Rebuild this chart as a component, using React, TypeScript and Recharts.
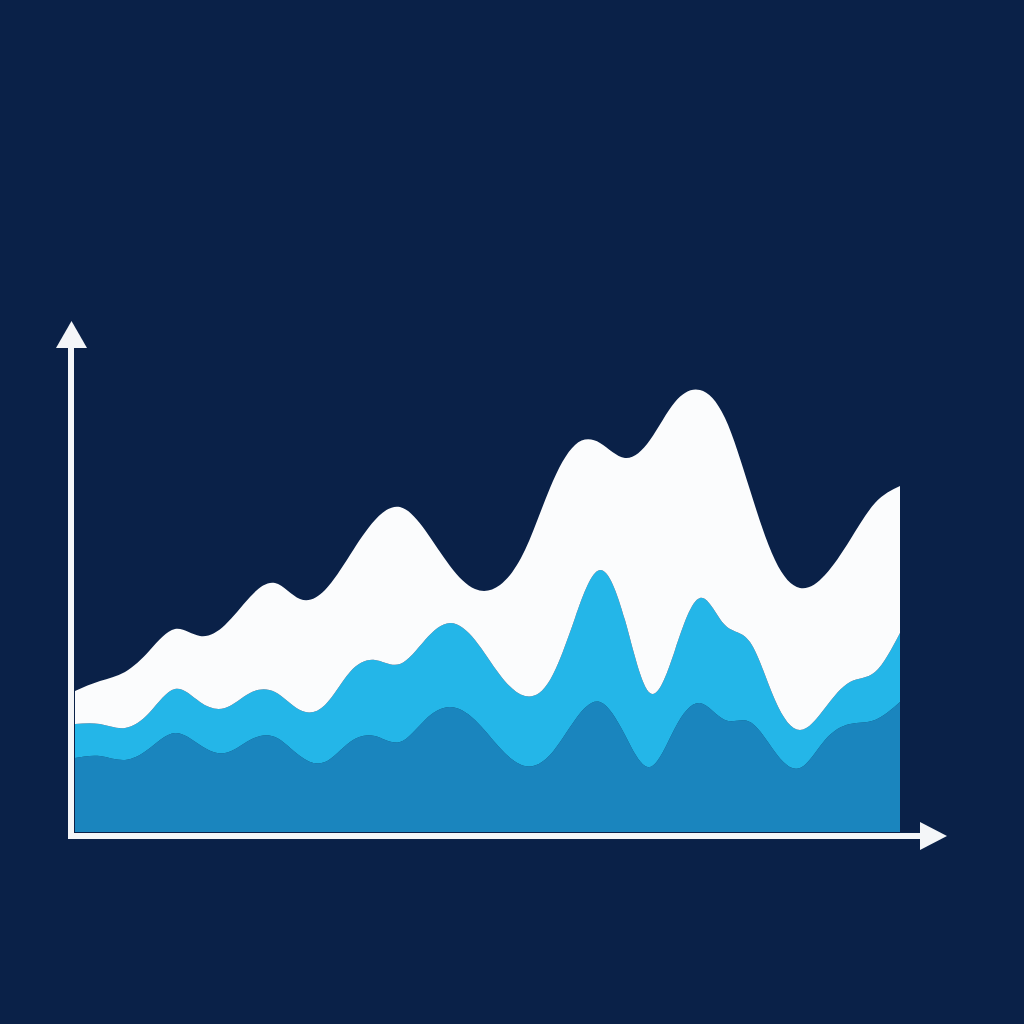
import { AreaChart, Area, XAxis, YAxis } from "recharts";

// 34 evenly spaced periods
const periods = [
  "P1", "P2", "P3", "P4", "P5", "P6", "P7", "P8", "P9", "P10",
  "P11", "P12", "P13", "P14", "P15", "P16", "P17", "P18", "P19", "P20",
  "P21", "P22", "P23", "P24", "P25", "P26", "P27", "P28", "P29", "P30",
  "P31", "P32", "P33", "P34",
];

// stacked layers, bottom → top
const baseLayer = [
  74, 76, 72, 84, 99, 87, 79, 92, 95, 76,
  70, 90, 96, 90, 112, 125, 112, 84, 66, 77,
  112, 130, 97, 65, 104, 129, 112, 110, 80, 64,
  92, 108, 112, 130,
];
const midLayer = [
  34, 32, 32, 36, 44, 43, 45, 47, 45, 46,
  57, 70, 76, 78, 80, 84, 80, 73, 70, 75,
  102, 132, 115, 74, 78, 105, 95, 80, 52, 38,
  32, 42, 48, 69,
];
const topLayer = [
  33, 43, 56, 62, 60, 66, 83, 96, 109, 111,
  115, 117, 140, 157, 110, 57, 51, 90, 146, 192,
  173, 127, 162, 253, 248, 208, 207, 152, 140, 142,
  133, 142, 169, 147,
];

const data = periods.map((p, i) => ({
  period: p,
  base: baseLayer[i],
  mid: midLayer[i],
  top: topLayer[i],
}));

const BG = "#0a2148";

export default function App() {
  return (
    <div
      style={{
        position: "fixed",
        top: 0,
        left: 0,
        width: 1024,
        height: 1024,
        background: BG,
        overflow: "hidden",
      }}
    >
      <AreaChart
        width={1024}
        height={1024}
        data={data}
        margin={{ top: 382, right: 124, left: 75, bottom: 192 }}
      >
        <XAxis dataKey="period" hide />
        <YAxis domain={[0, 450]} hide />
        <Area
          type="natural"
          dataKey="base"
          stackId="s"
          stroke="none"
          fill="#1a85be"
          fillOpacity={1}
          isAnimationActive={false}
        />
        <Area
          type="natural"
          dataKey="mid"
          stackId="s"
          stroke="none"
          fill="#24b6e8"
          fillOpacity={1}
          isAnimationActive={false}
        />
        <Area
          type="natural"
          dataKey="top"
          stackId="s"
          stroke="none"
          fill="#fbfcfd"
          fillOpacity={1}
          isAnimationActive={false}
        />
      </AreaChart>

      {/* axis arrows */}
      <svg
        width={1024}
        height={1024}
        style={{ position: "absolute", top: 0, left: 0, pointerEvents: "none" }}
      >
        <rect x={68} y={344} width={6} height={495} fill="#f4f6f8" />
        <polygon points="71.5,321 56,348 87,348" fill="#f4f6f8" />
        <rect x={68} y={833} width={855} height={6} fill="#f4f6f8" />
        <polygon points="947,836 920,822 920,850" fill="#f4f6f8" />
      </svg>
    </div>
  );
}
